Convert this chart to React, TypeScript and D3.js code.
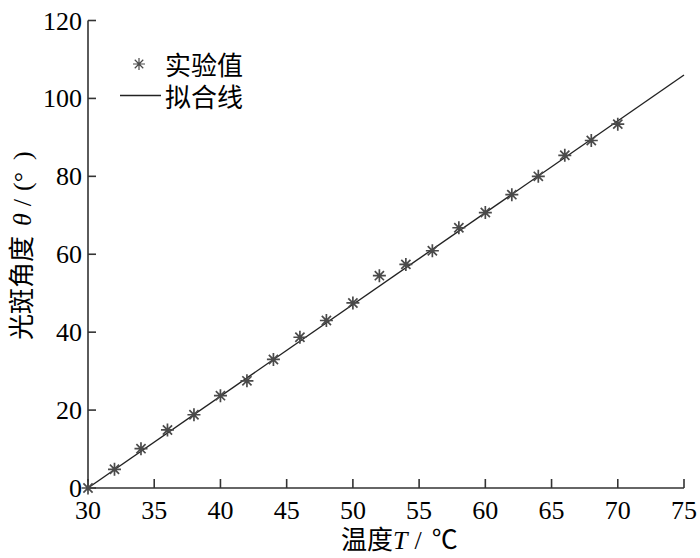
import React from 'react';
import * as d3 from 'd3';

// measured points (temperature in °C, spot angle in degrees)
const tempValues: number[] = [30, 32, 34, 36, 38, 40, 42, 44, 46, 48, 50, 52, 54, 56, 58, 60, 62, 64, 66, 68, 70];
const angleValues: number[] = [0, 4.8, 10.1, 14.9, 18.8, 23.7, 27.5, 33.0, 38.7, 43.0, 47.5, 54.5, 57.4, 60.9, 66.8, 70.7, 75.3, 80.0, 85.4, 89.2, 93.4];

// fitted straight line end points
const fitTemp: number[] = [30, 75];
const fitAngle: number[] = [0, 106];

const xTicks: number[] = [30, 35, 40, 45, 50, 55, 60, 65, 70, 75];
const yTicks: number[] = [0, 20, 40, 60, 80, 100, 120];

const legendLabels: string[] = ['实验值', '拟合线'];

const SERIF = 'Liberation Serif';
const CJK = 'Noto Sans CJK SC';

const width = 700;
const height = 558;
const marginLeft = 88;
const marginRight = 16;
const marginTop = 20.5;
const marginBottom = 70;

const x = d3.scaleLinear()
  .domain([30, 75])
  .range([marginLeft, width - marginRight]);

const y = d3.scaleLinear()
  .domain([0, 120])
  .range([height - marginBottom, marginTop]);

const fitLine = d3.line<number>()
  .x((_, i) => x(fitTemp[i]))
  .y(v => y(v));

// asterisk marker (8 arms)
const starPath = (r: number) => {
  const d = r * Math.SQRT1_2;
  return `M${-r},0L${r},0M0,${-r}L0,${r}M${-d},${-d}L${d},${d}M${-d},${d}L${d},${-d}`;
};

const axisColor = '#333';

const App: React.FC = () => {
  const [x0, x1] = x.range();
  const [y0, y1] = y.range();

  return (
    <svg
      width={width}
      height={height}
      style={{ position: 'absolute', left: 0, top: 0, background: '#fff' }}
    >
      {/* x axis, ticks point inward */}
      <line x1={x0} x2={x1} y1={y0} y2={y0} stroke={axisColor} strokeWidth={1.6} />
      {xTicks.map(t => (
        <g key={`x${t}`}>
          <line x1={x(t)} x2={x(t)} y1={y0} y2={y0 - 9} stroke={axisColor} strokeWidth={1.6} />
          <text
            x={x(t)}
            y={y0 + 31}
            textAnchor="middle"
            fill="#000"
            style={{ fontFamily: SERIF, fontSize: '26px' }}
          >
            {t}
          </text>
        </g>
      ))}

      {/* y axis */}
      <line x1={x0} x2={x0} y1={y0} y2={y1} stroke={axisColor} strokeWidth={1.6} />
      {yTicks.map(t => (
        <g key={`y${t}`}>
          <line x1={x0} x2={x0 + 8} y1={y(t)} y2={y(t)} stroke={axisColor} strokeWidth={1.6} />
          <text
            x={x0 - 6}
            y={y(t) + 9}
            textAnchor="end"
            fill="#000"
            style={{ fontFamily: SERIF, fontSize: '26px' }}
          >
            {t}
          </text>
        </g>
      ))}

      {/* fitted line */}
      <path d={fitLine(fitAngle) ?? ''} fill="none" stroke="#222" strokeWidth={1.4} />

      {/* measured points */}
      {angleValues.map((v, i) => (
        <path
          key={`p${i}`}
          transform={`translate(${x(tempValues[i])},${y(v)})`}
          d={starPath(6.5)}
          fill="none"
          stroke="#4a4a4a"
          strokeWidth={1.7}
        />
      ))}

      {/* legend */}
      <path transform="translate(139,64)" d={starPath(6)} fill="none" stroke="#4a4a4a" strokeWidth={1.2} />
      <line x1={120} x2={161} y1={95.5} y2={95.5} stroke="#222" strokeWidth={1.4} />
      {legendLabels.map((t, i) => (
        <text
          key={t}
          x={165}
          y={75 + i * 31.5}
          fill="#000"
          style={{ fontFamily: CJK, fontSize: '26px' }}
        >
          {t}
        </text>
      ))}

      {/* x axis title */}
      <text x={341} y={549} fill="#000" style={{ fontSize: '26px' }}>
        <tspan style={{ fontFamily: CJK }}>温度</tspan>
        <tspan style={{ fontFamily: SERIF, fontStyle: 'italic' }}>T</tspan>
        <tspan dx={7} style={{ fontFamily: SERIF }}>/</tspan>
        <tspan dx={10} style={{ fontFamily: CJK }}>℃</tspan>
      </text>

      {/* y axis title */}
      <text transform="translate(31,340) rotate(-90)" fill="#000" style={{ fontSize: '26px' }}>
        <tspan style={{ fontFamily: CJK }}>光斑角度</tspan>
        <tspan dx={10} style={{ fontFamily: SERIF, fontStyle: 'italic' }}>θ</tspan>
        <tspan dx={7} style={{ fontFamily: SERIF }}>/</tspan>
        <tspan dx={8} style={{ fontFamily: SERIF }}>(°</tspan>
        <tspan dx={12} style={{ fontFamily: SERIF }}>)</tspan>
      </text>
    </svg>
  );
};

export default App;
